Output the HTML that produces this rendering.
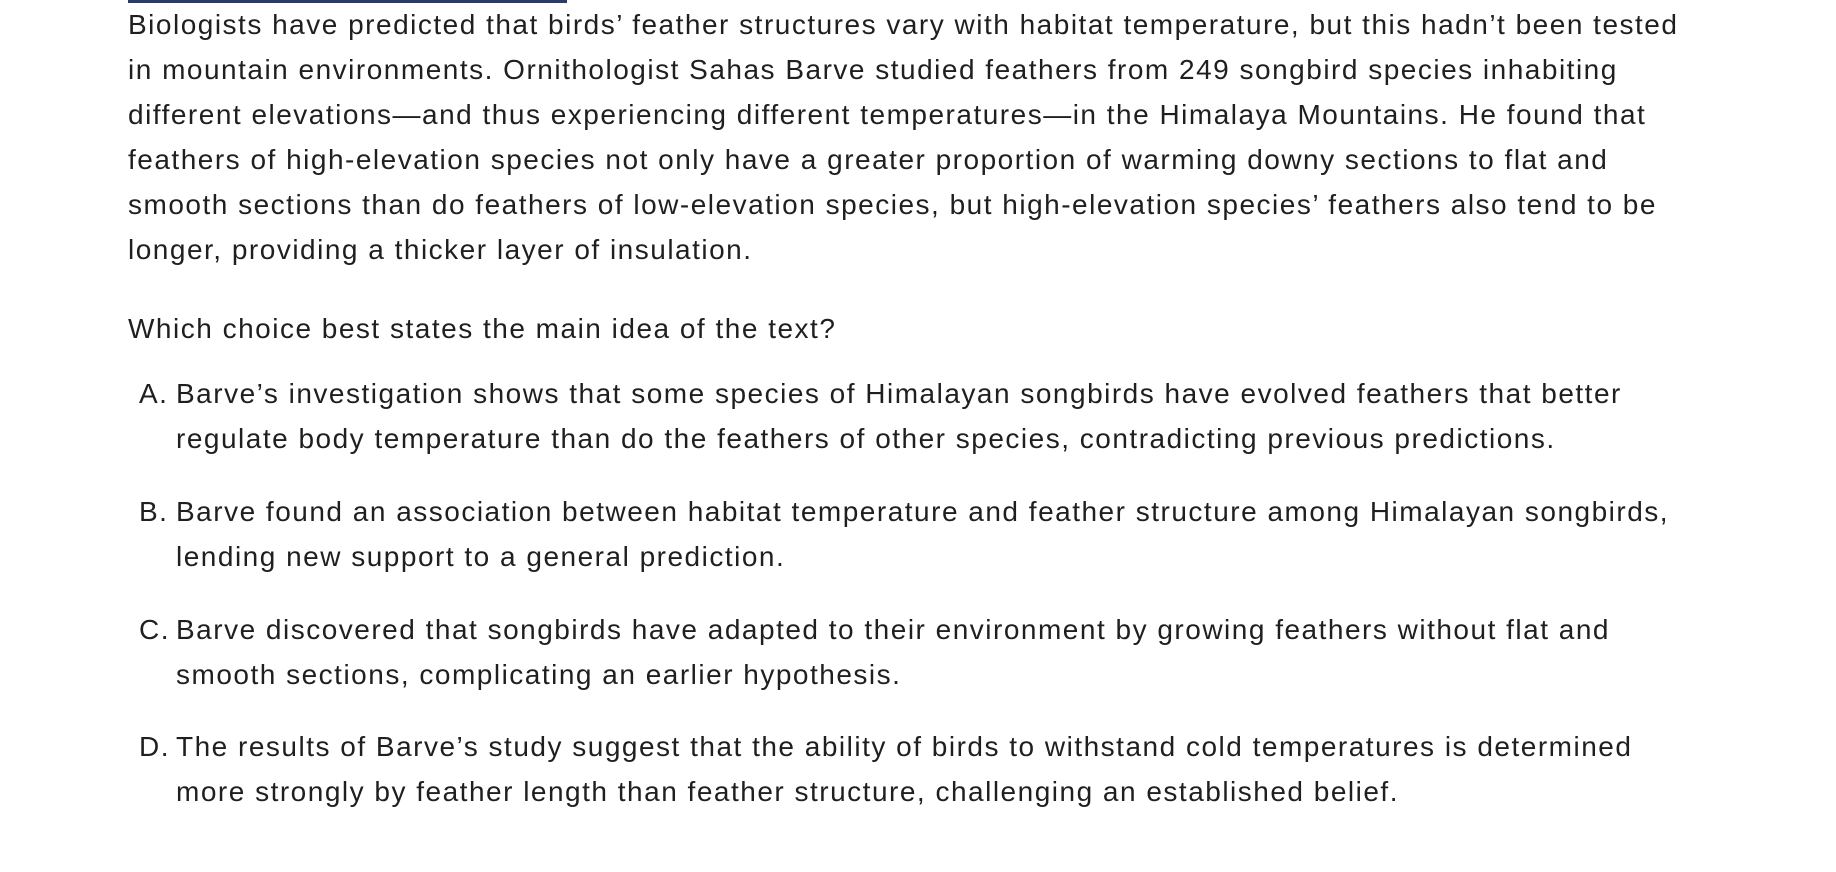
<!DOCTYPE html>
<html><head><meta charset="utf-8"><style>
html,body{margin:0;padding:0;background:#fff;width:1836px;height:872px;overflow:hidden}
body{font-family:"Liberation Sans",Arial,sans-serif;color:#1f1f1f;font-size:28px;letter-spacing:1.5px;position:relative}
.l{position:absolute;white-space:nowrap;line-height:45px;height:45px}
.rule{position:absolute;left:128px;top:0;width:439px;height:3px;background:#2b3a6b}
</style></head><body>
<div class="rule"></div>
<div>
<div class="l" style="left:128px;top:2px">Biologists have predicted that birds’ feather structures vary with habitat temperature, but this hadn’t been tested</div>
<div class="l" style="left:128px;top:47px">in mountain environments. Ornithologist Sahas Barve studied feathers from 249 songbird species inhabiting</div>
<div class="l" style="left:128px;top:92px">different elevations—and thus experiencing different temperatures—in the Himalaya Mountains. He found that</div>
<div class="l" style="left:128px;top:137px">feathers of high-elevation species not only have a greater proportion of warming downy sections to flat and</div>
<div class="l" style="left:128px;top:182px">smooth sections than do feathers of low-elevation species, but high-elevation species’ feathers also tend to be</div>
<div class="l" style="left:128px;top:227px">longer, providing a thicker layer of insulation.</div>
</div>
<div class="l" style="left:128px;top:306px">Which choice best states the main idea of the text?</div>
<div>
<div class="l" style="left:139px;top:371px">A.</div>
<div class="l" style="left:176px;top:371px">Barve’s investigation shows that some species of Himalayan songbirds have evolved feathers that better</div>
<div class="l" style="left:176px;top:416px">regulate body temperature than do the feathers of other species, contradicting previous predictions.</div>
</div>
<div>
<div class="l" style="left:139px;top:489px">B.</div>
<div class="l" style="left:176px;top:489px">Barve found an association between habitat temperature and feather structure among Himalayan songbirds,</div>
<div class="l" style="left:176px;top:534px">lending new support to a general prediction.</div>
</div>
<div>
<div class="l" style="left:139px;top:607px">C.</div>
<div class="l" style="left:176px;top:607px">Barve discovered that songbirds have adapted to their environment by growing feathers without flat and</div>
<div class="l" style="left:176px;top:652px">smooth sections, complicating an earlier hypothesis.</div>
</div>
<div>
<div class="l" style="left:139px;top:724px">D.</div>
<div class="l" style="left:176px;top:724px">The results of Barve’s study suggest that the ability of birds to withstand cold temperatures is determined</div>
<div class="l" style="left:176px;top:769px">more strongly by feather length than feather structure, challenging an established belief.</div>
</div>
</body></html>
